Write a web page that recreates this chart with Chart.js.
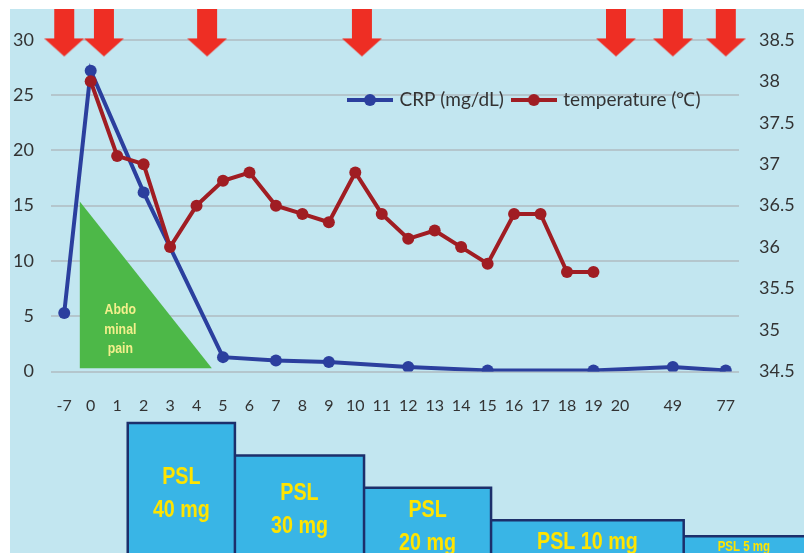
<!DOCTYPE html>
<html>
<head>
<meta charset="utf-8">
<script src="https://cdn.jsdelivr.net/npm/chart.js@4.4.1/dist/chart.umd.min.js"></script>
<style>
  html, body { margin: 0; padding: 0; background: #ffffff; }
  #wrap { position: relative; width: 804px; height: 553px; overflow: hidden; }
  #bg { position: absolute; left: 10px; top: 9px; right: 0; bottom: 0; background: #c2e6f0; }
  #main { position: absolute; left: 0; top: 9px; }
  #psl { position: absolute; left: 0; top: 410px; }
</style>
</head>
<body>
<div id="wrap">
  <div id="bg"></div>
  <canvas id="main" width="804" height="544"></canvas>
  <canvas id="psl" width="804" height="143"></canvas>
</div>
<script>
// ---------------- data ----------------
// x-axis categories (blank slots mark the compressed gaps before day 49 and day 77)
const categories = ['-7','0','1','2','3','4','5','6','7','8','9','10','11','12','13','14','15','16','17','18','19','20','','49','','77'];
// CRP (mg/dL), aligned with categories
const crpValues  = [5.3, 27.2, null, 16.2, null, null, 1.3, null, 1.0, null, 0.85, null, null, 0.4, null, null, 0.1, null, null, null, 0.1, null, null, 0.4, null, 0.1];
// body temperature (°C), aligned with categories
const tempValues = [null, 38.0, 37.1, 37.0, 36.0, 36.5, 36.8, 36.9, 36.5, 36.4, 36.3, 36.9, 36.4, 36.1, 36.2, 36.0, 35.8, 36.4, 36.4, 35.7, 35.7, null, null, null, null, null];
const seriesNames = ['CRP (mg/dL)', 'temperature (\u2103)'];
// left / right axis ticks
const crpTicks  = [0, 5, 10, 15, 20, 25, 30];
const tempTicks = [34.5, 35, 35.5, 36, 36.5, 37, 37.5, 38, 38.5];
// event arrows: positions on the category axis (index units) and tip level (CRP units)
const arrowPositions = [0, 1.5, 5.4, 11.25, 20.85, 23, 25];
const arrowTipLevel = 28.5;
// abdominal pain triangle (axis positions / CRP units)
const painStart = 0.58, painEnd = 5.58, painPeak = 15.4, painBase = 0.3;
const painText = ['Abdo', 'minal', 'pain'];
const painTextX = 2.12, painTextY = 3.8;
// PSL dosing steps: boundaries on the category axis, doses (mg), labels
const pslBounds = [2.4, 6.45, 11.33, 16.13, 23.41, 29];
const pslDoses  = [40, 30, 20, 10, 5];
const pslLabels = [['PSL', '40 mg'], ['PSL', '30 mg'], ['PSL', '20 mg'], ['PSL 10 mg'], ['PSL 5 mg']];

// ---------------- styling ----------------
const BLUE = '#2b3f9e', RED = '#a01d23', GREEN = '#4db848', ARROW = '#ee2e24';
const SANS = '"Liberation Sans", Arial, sans-serif';
const NARROW_SCALE = 0.82;
Chart.defaults.font.family = 'Lato, "Open Sans", sans-serif';
Chart.defaults.color = '#333333';

function toPoints(values) {
  const pts = [];
  values.forEach((v, i) => { if (v !== null) pts.push({ x: i, y: v }); });
  return pts;
}

function narrowText(ctx, text, x, y) {
  ctx.save();
  ctx.translate(x, y);
  ctx.scale(NARROW_SCALE, 1);
  ctx.fillText(text, 0, 0);
  ctx.restore();
}

function makeMarker(color) {
  const c = document.createElement('canvas');
  c.width = 46; c.height = 14;
  const g = c.getContext('2d');
  g.strokeStyle = color; g.lineWidth = 4;
  g.beginPath(); g.moveTo(0, 7); g.lineTo(46, 7); g.stroke();
  g.fillStyle = color;
  g.beginPath(); g.arc(23, 7, 6, 0, Math.PI * 2); g.fill();
  return c;
}
const markers = [makeMarker(BLUE), makeMarker(RED)];

function makeArrow() {
  // arrow drawn in the upper half so that its tip sits at the image centre
  const w = 40, h = 47, head = 18, shaft = 20;
  const c = document.createElement('canvas');
  c.width = w; c.height = h * 2;
  const g = c.getContext('2d');
  g.fillStyle = ARROW;
  g.beginPath();
  g.moveTo((w - shaft) / 2, 0);
  g.lineTo((w + shaft) / 2, 0);
  g.lineTo((w + shaft) / 2, h - head);
  g.lineTo(w, h - head);
  g.lineTo(w / 2, h);
  g.lineTo(0, h - head);
  g.lineTo((w - shaft) / 2, h - head);
  g.closePath();
  g.fill();
  return c;
}
const arrowImg = makeArrow();

// legend relocation (legend is laid out in a 1px strip, then drawn inside the plot)
const legendPlacer = {
  id: 'legendPlacer',
  afterLayout(chart, args, opts) {
    const lg = chart.legend;
    if (!lg) return;
    lg.left = opts.left; lg.right = opts.right; lg.width = opts.right - opts.left;
    lg.top = opts.top; lg.height = opts.height; lg.bottom = opts.top + opts.height;
  }
};

const painLabel = {
  id: 'painLabel',
  afterDatasetsDraw(chart) {
    const { ctx, scales } = chart;
    const x = scales.x.getPixelForValue(painTextX);
    const yc = scales.y.getPixelForValue(painTextY);
    ctx.save();
    ctx.font = 'bold 15px ' + SANS;
    ctx.fillStyle = '#f3ef8c';
    ctx.textAlign = 'center';
    ctx.textBaseline = 'middle';
    const lh = 19.5;
    painText.forEach((t, i) => {
      narrowText(ctx, t, x, yc + (i - (painText.length - 1) / 2) * lh);
    });
    ctx.restore();
  }
};

const mainChart = new Chart(document.getElementById('main'), {
  type: 'line',
  data: {
    datasets: [
      {
        label: seriesNames[0],
        data: toPoints(crpValues),
        yAxisID: 'y',
        borderColor: BLUE, backgroundColor: BLUE,
        borderWidth: 4, pointRadius: 6, pointBorderWidth: 0,
        pointBackgroundColor: BLUE, spanGaps: true, order: 2
      },
      {
        label: seriesNames[1],
        data: toPoints(tempValues),
        yAxisID: 'y1',
        borderColor: RED, backgroundColor: RED,
        borderWidth: 4, pointRadius: 6, pointBorderWidth: 0,
        pointBackgroundColor: RED, spanGaps: true, order: 1
      },
      {
        label: 'pain',
        data: [{ x: painStart, y: painPeak }, { x: painEnd, y: painBase }],
        yAxisID: 'y',
        borderWidth: 0, borderColor: GREEN, backgroundColor: GREEN,
        pointRadius: 0, fill: { value: painBase }, order: 3
      },
      {
        label: 'arrows',
        data: arrowPositions.map(p => ({ x: p, y: arrowTipLevel })),
        yAxisID: 'y',
        showLine: false, pointStyle: arrowImg, pointRadius: 10,
        clip: false, order: 0
      }
    ]
  },
  options: {
    responsive: false, animation: false, devicePixelRatio: 1, events: [],
    layout: { padding: { top: 28.3, left: 0, right: 0, bottom: 140.5 } },
    scales: {
      x: {
        type: 'linear', min: -0.5, max: categories.length - 0.5,
        afterBuildTicks: s => { s.ticks = categories.map((c, i) => ({ value: i })); },
        afterFit: s => { s.height = 40; },
        grid: { display: false }, border: { display: false },
        ticks: {
          autoSkip: false, maxRotation: 0, padding: 17,
          font: { size: 16 }, color: '#333333',
          callback: v => categories[v]
        }
      },
      y: {
        position: 'left', min: crpTicks[0], max: crpTicks[crpTicks.length - 1],
        afterBuildTicks: s => { s.ticks = crpTicks.map(v => ({ value: v })); },
        afterFit: s => { s.width = 51; },
        grid: { color: 'rgba(170,172,176,0.55)', lineWidth: 2, drawTicks: false },
        border: { display: false },
        ticks: { padding: 17, font: { size: 18 }, color: '#333333' }
      },
      y1: {
        position: 'right', min: tempTicks[0], max: tempTicks[tempTicks.length - 1],
        afterBuildTicks: s => { s.ticks = tempTicks.map(v => ({ value: v })); },
        afterFit: s => { s.width = 65; },
        grid: { display: false, drawTicks: false }, border: { display: false },
        ticks: { padding: 20, font: { size: 18 }, color: '#333333', callback: v => String(v) }
      }
    },
    plugins: {
      tooltip: { enabled: false },
      legend: {
        position: 'bottom', align: 'start', maxHeight: 1,
        labels: {
          usePointStyle: true, pointStyleWidth: 40, padding: 10,
          font: { size: 19 }, color: '#333333',
          filter: item => item.datasetIndex < 2,
          sort: (a, b) => a.datasetIndex - b.datasetIndex,
          generateLabels: chart => {
            const items = Chart.defaults.plugins.legend.labels.generateLabels(chart);
            items.forEach(it => { if (markers[it.datasetIndex]) it.pointStyle = markers[it.datasetIndex]; });
            return items;
          }
        }
      },
      legendPlacer: { left: 340, right: 780, top: 71.5, height: 42 }
    }
  },
  plugins: [legendPlacer, painLabel]
});

// ---------------- PSL dosing panel ----------------
const xs = mainChart.scales.x;
const pxPerUnit = (xs.right - xs.left) / (xs.max - xs.min);
const pslMin = xs.min - xs.left / pxPerUnit;
const pslMax = pslMin + 804 / pxPerUnit;

const outline = [];
const BASE = -5;
pslDoses.forEach((d, i) => {
  outline.push({ x: pslBounds[i], y: BASE });
  outline.push({ x: pslBounds[i], y: d });
  outline.push({ x: pslBounds[i + 1], y: d });
  outline.push({ x: pslBounds[i + 1], y: BASE });
});

const pslText = {
  id: 'pslText',
  afterDatasetsDraw(chart) {
    const { ctx, scales, chartArea } = chart;
    ctx.save();
    ctx.fillStyle = '#ffe400';
    ctx.textAlign = 'center';
    ctx.textBaseline = 'middle';
    pslDoses.forEach((d, i) => {
      const x0 = scales.x.getPixelForValue(pslBounds[i]);
      const x1 = Math.min(scales.x.getPixelForValue(pslBounds[i + 1]), chartArea.right);
      const top = scales.y.getPixelForValue(d);
      const visible = chartArea.bottom - top;
      const size = visible < 25 ? 14 : 24;
      const lh = 33;
      ctx.font = 'bold ' + size + 'px ' + SANS;
      const cx = (x0 + x1) / 2;
      const cy = (top + chartArea.bottom) / 2 + (size > 14 ? 6 : 2.5);
      const lines = pslLabels[i];
      lines.forEach((t, k) => {
        narrowText(ctx, t, cx, cy + (k - (lines.length - 1) / 2) * lh);
      });
    });
    ctx.restore();
  }
};

new Chart(document.getElementById('psl'), {
  type: 'line',
  data: {
    datasets: [{
      label: 'PSL',
      data: outline,
      borderColor: '#1c2f6b', borderWidth: 2.5, borderJoinStyle: 'miter',
      backgroundColor: '#39b5e6', fill: 'start', pointRadius: 0, tension: 0
    }]
  },
  options: {
    responsive: false, animation: false, devicePixelRatio: 1, events: [],
    layout: { padding: 0 },
    scales: {
      x: { type: 'linear', display: false, min: pslMin, max: pslMax },
      y: { type: 'linear', display: false, min: -0.15, max: 44.05 }
    },
    plugins: { legend: { display: false }, tooltip: { enabled: false } }
  },
  plugins: [pslText]
});
</script>
</body>
</html>
